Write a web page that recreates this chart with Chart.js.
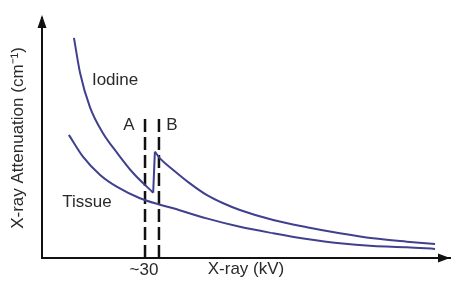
<!DOCTYPE html>
<html>
<head>
<meta charset="utf-8">
<script src="https://cdn.jsdelivr.net/npm/chart.js@4"></script>
<style>
  html, body { margin: 0; padding: 0; background: #fff; }
  #wrap { width: 451px; height: 281px; }
</style>
</head>
<body>
<div id="wrap"><canvas id="atten"></canvas></div>
<script>
const ctx = document.getElementById("atten").getContext("2d");

// === data (kV, arbitrary attenuation units) ===
const iodineLowKv = [9.4, 11.2, 14.1, 17.9, 22.1, 26.8, 32.7];
const iodineLowVal = [91.7, 77.1, 62.9, 52.1, 43.8, 35.4, 27.2];
const iodineHighKv = [33.2, 34.7, 38.6, 43.5, 48.4, 53.3, 58.2, 68.0, 77.9, 87.6, 97.4, 107.3, 115.6];
const iodineHighVal = [44.3, 41.5, 36.7, 31.1, 26.3, 22.8, 20.0, 15.8, 12.8, 10.3, 8.2, 6.8, 5.8];
const tissueKv = [7.9, 12.1, 17.1, 22.1, 28.8, 34.2, 38.6, 48.4, 58.2, 68.0, 77.9, 87.6, 97.4, 107.3, 115.6];
const tissueVal = [51.3, 42.1, 34.6, 29.6, 24.9, 22.4, 20.7, 16.5, 13.0, 10.3, 7.9, 6.1, 5.0, 4.5, 3.8];
const markerKv = [30.3, 34.4]; // lines A and B
const markerTop = 58.3;
const xTicks = [30];
const xTickLabels = ["~30"];
const noteTexts = ["Iodine", "Tissue", "A", "B"];
const noteKv = [21.5, 13.2, 25.6, 38.2];
const noteVal = [74.2, 23.3, 55.4, 55.4];

const curveColor = "#40408f";
const fontFamily = "'Liberation Sans', Arial, sans-serif";
const pts = (xs, ys) => xs.map((x, i) => ({ x: x, y: ys[i] }));

const curve = (data) => ({
  data: data,
  borderColor: curveColor,
  borderWidth: 2,
  pointRadius: 0,
  fill: false,
  cubicInterpolationMode: "monotone",
});

const marker = (kv) => ({
  data: [{ x: kv, y: 0 }, { x: kv, y: markerTop }],
  borderColor: "#111",
  borderWidth: 2.5,
  borderDash: [13, 5],
  pointRadius: 0,
  fill: false,
});

// arrows + in-plot labels
const decor = {
  id: "decor",
  afterDraw(chart) {
    const { ctx, chartArea: a, scales } = chart;
    ctx.save();
    ctx.fillStyle = "#111";
    ctx.beginPath();
    ctx.moveTo(a.left, a.top - 3);
    ctx.lineTo(a.left - 4.5, a.top + 10);
    ctx.lineTo(a.left + 4.5, a.top + 10);
    ctx.closePath();
    ctx.fill();
    ctx.beginPath();
    ctx.moveTo(a.right, a.bottom);
    ctx.lineTo(a.right - 12, a.bottom - 4.5);
    ctx.lineTo(a.right - 12, a.bottom + 4.5);
    ctx.closePath();
    ctx.fill();

    ctx.font = "17px " + fontFamily;
    ctx.fillStyle = "#2a2a2a";
    ctx.textAlign = "center";
    ctx.textBaseline = "middle";
    noteTexts.forEach((t, i) => {
      ctx.fillText(t, scales.x.getPixelForValue(noteKv[i]), scales.y.getPixelForValue(noteVal[i]));
    });
    ctx.restore();
  },
};

new Chart(ctx, {
  type: "line",
  data: {
    datasets: [
      curve(pts(iodineLowKv, iodineLowVal)),
      curve([
        { x: iodineLowKv[iodineLowKv.length - 1], y: iodineLowVal[iodineLowVal.length - 1] },
        { x: iodineHighKv[0], y: iodineHighVal[0] },
      ]),
      curve(pts(iodineHighKv, iodineHighVal)),
      curve(pts(tissueKv, tissueVal)),
      marker(markerKv[0]),
      marker(markerKv[1]),
    ],
  },
  options: {
    responsive: true,
    maintainAspectRatio: false,
    animation: false,
    layout: { padding: { top: 18, right: 1, left: 0, bottom: 0 } },
    plugins: {
      legend: { display: false },
      tooltip: { enabled: false },
    },
    scales: {
      x: {
        type: "linear",
        min: 0,
        max: 120,
        afterBuildTicks: (s) => { s.ticks = xTicks.map((v) => ({ value: v })); },
        afterFit: (s) => { s.height = 23; },
        grid: { display: false, drawTicks: false },
        border: { color: "#111", width: 2 },
        ticks: {
          padding: 2,
          color: "#2a2a2a",
          font: { family: fontFamily, size: 17 },
          callback: (v) => xTickLabels[xTicks.indexOf(v)] || "",
        },
        title: {
          display: true,
          text: "X-ray (kV)",
          color: "#2a2a2a",
          font: { family: fontFamily, size: 17 },
          padding: { top: 0, bottom: 1 },
        },
      },
      y: {
        min: 0,
        max: 100,
        afterFit: (s) => { s.width = 42; },
        grid: { display: false, drawTicks: false },
        border: { color: "#111", width: 2 },
        ticks: { display: false },
        title: {
          display: true,
          text: "X-ray Attenuation (cm⁻¹)",
          color: "#2a2a2a",
          font: { family: fontFamily, size: 17 },
          padding: { top: 8, bottom: 0 },
        },
      },
    },
  },
  plugins: [decor],
});
</script>
</body>
</html>
